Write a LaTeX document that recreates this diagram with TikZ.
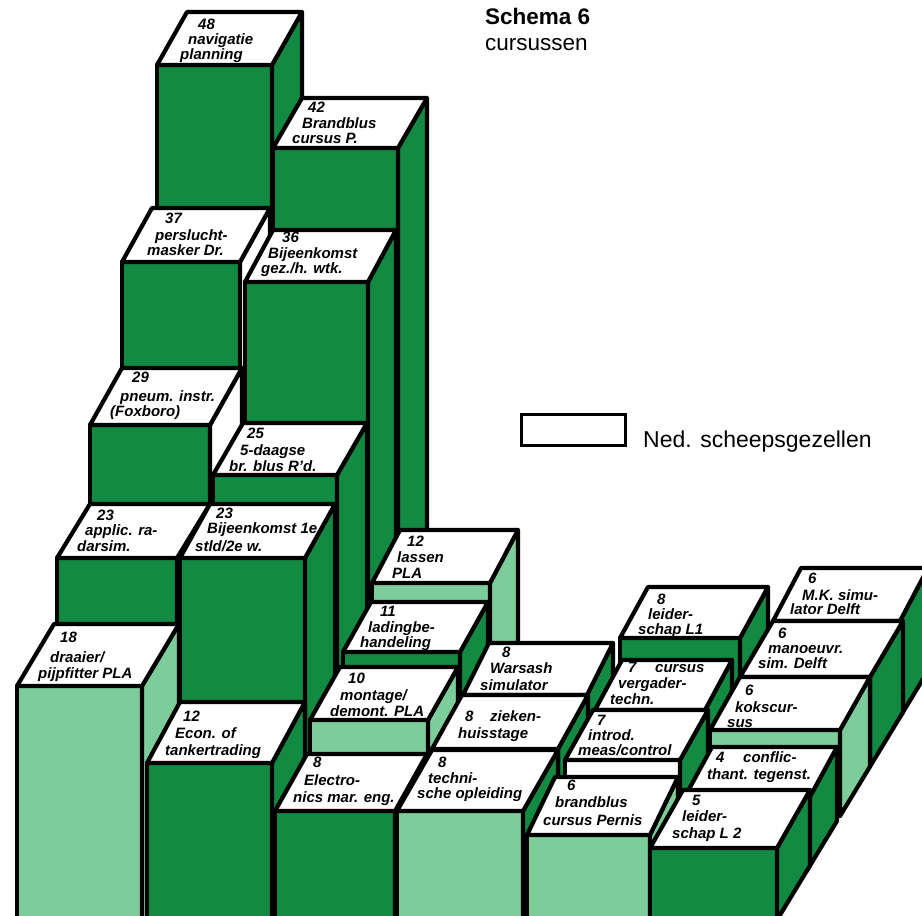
\documentclass[tikz,border=0pt]{standalone}
\usepackage{fontspec}
\setmainfont{Liberation Sans}
\definecolor{dg}{RGB}{18,138,66}
\definecolor{lg}{RGB}{125,205,155}
\newcounter{lblc}
\tikzset{
  face/.style={draw=black,line width=4.2pt,line join=round},
  lbl/.style={anchor=base west,inner sep=0pt,font=\fontsize{15}{16}\selectfont\bfseries\itshape}
}
% ordinary bar: xl xr yt ox oy front side
\newcommand{\cbar}[7]{%
  \draw[face,fill=#6] (#1,#3) rectangle (#2,935);
  \draw[face,fill=#7] (#2,#3) -- ({#2+#4},{#3-#5}) -- ({#2+#4},{935-#5}) -- (#2,935) -- cycle;
  \draw[face,fill=white] (#1,#3) -- ({#1+#4},{#3-#5}) -- ({#2+#4},{#3-#5}) -- (#2,#3) -- cycle;
}
% bar standing on the visible ground line at the right
\newcommand{\gbar}[7]{%
  \draw[face,fill=#6] (#1,#3) rectangle (#2,{920-(#2-777)*1.65});
  \draw[face,fill=#7] (#2,#3) -- ({#2+#4},{#3-#5}) -- ({#2+#4},{920-(#2+#4-777)*1.65}) -- (#2,{920-(#2-777)*1.65}) -- cycle;
  \draw[face,fill=white] (#1,#3) -- ({#1+#4},{#3-#5}) -- ({#2+#4},{#3-#5}) -- (#2,#3) -- cycle;
}
\newcommand{\lab}[3]{\stepcounter{lblc}\node[lbl] (t\arabic{lblc}) at (#1,{#2+5}) {#3};}
\begin{document}
\begin{tikzpicture}[x=1pt,y=-1pt]
\useasboundingbox (0,0) rectangle (922,916);
\clip (0,0) rectangle (922,916);
% row 4
\cbar{157}{272}{65}{30}{53}{dg}{dg}
\cbar{273}{398}{148}{29}{50}{dg}{dg}
\gbar{773}{900}{621}{28}{53}{dg}{dg}
% row 3
\cbar{122}{240}{262}{30}{54}{dg}{white}
\cbar{245}{368}{282}{28}{52}{dg}{dg}
\cbar{372}{490}{583}{28}{53}{lg}{lg}
\cbar{620}{740}{638}{28}{51}{dg}{dg}
\gbar{740}{870}{677}{33}{56}{dg}{dg}
% row 2
\cbar{90}{210}{425}{32}{57}{dg}{white}
\cbar{213}{337}{475}{30}{52}{dg}{dg}
\cbar{343}{460}{652}{28}{50}{dg}{dg}
\cbar{463}{587}{695}{26}{52}{dg}{dg}
\cbar{595}{705}{710}{27}{50}{dg}{dg}
\gbar{710}{840}{730}{30}{53}{lg}{lg}
% row 1
\cbar{57}{177}{558}{33}{54}{dg}{dg}
\cbar{180}{305}{558}{30}{54}{dg}{dg}
\cbar{310}{428}{720}{30}{53}{lg}{lg}
\cbar{432}{558}{749}{30}{54}{dg}{dg}
\cbar{565}{680}{760}{28}{50}{white}{dg}
\gbar{682}{807}{802}{30}{55}{dg}{dg}
% row 0
\cbar{17}{142}{686}{37}{62}{lg}{lg}
\cbar{147}{272}{763}{33}{61}{dg}{dg}
\cbar{275}{395}{811}{32}{57}{dg}{dg}
\cbar{397}{523}{811}{35}{61}{lg}{dg}
\cbar{527}{650}{835}{28}{58}{lg}{lg}
\gbar{650}{777}{848}{33}{58}{dg}{dg}
% labels
\lab{198}{24}{48}\lab{188}{39}{navigatie}\lab{180}{54}{planning}
\lab{308}{107}{42}\lab{302}{123}{Brandblus}\lab{292}{138}{cursus P.}
\lab{165}{218}{37}\lab{155}{235}{perslucht-}\lab{147}{250}{masker Dr.}
\lab{282}{237}{36}\lab{268}{253}{Bijeenkomst}\lab{261}{268}{gez./h. wtk.}
\lab{132}{377}{29}\lab{120}{396}{pneum. instr.}\lab{110}{411}{(Foxboro)}
\lab{247}{433}{25}\lab{240}{450}{5-daagse}\lab{229}{466}{br. blus R’d.}
\lab{97}{515}{23}\lab{85}{530}{applic. ra-}\lab{77}{546}{darsim.}
\lab{216}{513}{23}\lab{207}{528}{Bijeenkomst 1e}\lab{195}{546}{stld/2e w.}
\lab{407}{541}{12}\lab{397}{557}{lassen}\lab{392}{573}{PLA}
\lab{60}{637}{18}\lab{50}{657}{draaier/}\lab{38}{673}{pijpfitter PLA}
\lab{183}{716}{12}\lab{175}{733}{Econ. of}\lab{165}{750}{tankertrading}
\lab{380}{611}{11}\lab{368}{627}{ladingbe-}\lab{360}{642}{handeling}
\lab{348}{678}{10}\lab{340}{695}{montage/}\lab{330}{711}{demont. PLA}
\lab{313}{762}{8}\lab{304}{780}{Electro-}\lab{293}{797}{nics mar. eng.}
\lab{438}{762}{8}\lab{428}{778}{techni-}\lab{417}{793}{sche opleiding}
\lab{502}{652}{8}\lab{490}{668}{Warsash}\lab{480}{685}{simulator}
\lab{465}{716}{8}\lab{490}{716}{zieken-}\lab{458}{733}{huisstage}
\lab{567}{785}{6}\lab{555}{802}{brandblus}\lab{543}{820}{cursus Pernis}
\lab{597}{720}{7}\lab{588}{735}{introd.}\lab{578}{750}{meas/control}
\lab{628}{667}{7}\lab{655}{667}{cursus}\lab{618}{683}{vergader-}\lab{610}{699}{techn.}
\lab{657}{599}{8}\lab{648}{614}{leider-}\lab{638}{629}{schap L1}
\lab{808}{578}{6}\lab{802}{595}{M.K. simu-}\lab{790}{609}{lator Delft}
\lab{778}{633}{6}\lab{768}{648}{manoeuvr.}\lab{758}{663}{sim. Delft}
\lab{745}{690}{6}\lab{735}{707}{kokscur-}\lab{727}{722}{sus}
\lab{716}{757}{4}\lab{743}{757}{conflic-}\lab{707}{774}{thant. tegenst.}
\lab{692}{800}{5}\lab{682}{816}{leider-}\lab{672}{833}{schap L 2}
% title and legend
\node[anchor=base west,inner sep=0pt,font=\fontsize{22.5}{26}\selectfont\bfseries] (title) at (485,24) {Schema 6};
\node[anchor=base west,inner sep=0pt,font=\fontsize{22.5}{26}\selectfont] (subtitle) at (485,50) {cursussen};
\node[draw=black,fill=white,line width=3pt,minimum width=104pt,minimum height=31pt,inner sep=0pt] (legbox) at (573.5,430) {};
\node[anchor=base west,inner sep=0pt,font=\fontsize{23}{26}\selectfont] (legtext) at (643,447) {Ned. scheepsgezellen};
\end{tikzpicture}
\end{document}
